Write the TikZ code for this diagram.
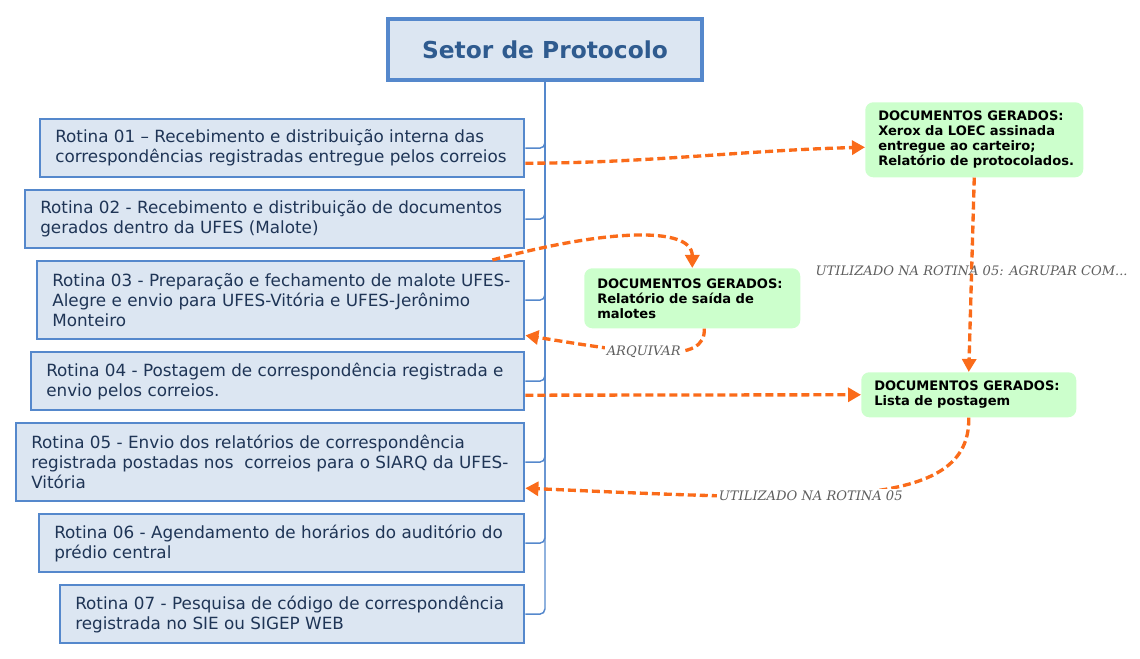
\documentclass[tikz,border=0pt]{standalone}
\usepackage{fontspec}
\setmainfont{DejaVu Sans}
\newfontfamily\lblfont{DejaVu Serif}
\usetikzlibrary{arrows.meta,calc}
\definecolor{boxfill}{HTML}{DCE6F2}
\definecolor{boxline}{HTML}{5588CC}
\definecolor{boxtext}{HTML}{1F3556}
\definecolor{titletext}{HTML}{2F5B8F}
\definecolor{docfill}{HTML}{CCFFCC}
\definecolor{flowcol}{HTML}{FA6B1A}
\definecolor{lblcol}{HTML}{5E5E5E}
\begin{document}
\begin{tikzpicture}[x=0.75pt,y=-0.75pt,
		titlebox/.style={draw=boxline, line width=3pt, fill=boxfill, text=titletext, minimum width=235.5pt, minimum height=45.75pt, font=\bfseries\fontsize{17.5}{21}\selectfont},
		rbox/.style={draw=boxline, line width=1.8pt, fill=boxfill, anchor=north west, minimum height=43.5pt},
		rtext/.style={anchor=west, align=left, inner sep=0pt, xshift=12pt, text=boxtext, font=\fontsize{12.6}{15}\selectfont},
		dbox/.style={fill=docfill, rounded corners=6pt, anchor=north west},
		dtext/.style={anchor=west, align=left, inner sep=0pt, xshift=9.75pt, font=\bfseries\fontsize{9.8}{11.25}\selectfont},
		trunk/.style={draw=boxline, line width=1.1pt, rounded corners=4pt},
		flow/.style={draw=flowcol, line width=2.5pt, dash pattern=on 6pt off 3pt, -{Triangle[length=9.75pt,width=10.5pt]}},
		lbl/.style={text=lblcol, inner sep=1.5pt, font=\lblfont\itshape\fontsize{9.8}{12}\selectfont}]
	\useasboundingbox (0,0) rectangle (1140,659);
	\node[titlebox] (title) at (545,49.5) {Setor de Protocolo};
	\node[rbox, minimum width=363pt] (r1) at (39,118) {};
	\node[rbox, minimum width=374.25pt] (r2) at (24,189) {};
	\node[rbox, minimum width=365.25pt, minimum height=58.5pt] (r3) at (36,260) {};
	\node[rbox, minimum width=369.75pt] (r4) at (30,351) {};
	\node[rbox, minimum width=381pt, minimum height=58.5pt] (r5) at (15,422) {};
	\node[rbox, minimum width=363.75pt] (r6) at (38,513) {};
	\node[rbox, minimum width=348pt] (r7) at (59,584) {};
	\draw[trunk] (title.south) |- (r7.east);
	\draw[trunk] (r1.east) -| (title.south);
	\draw[trunk] (r2.east) -| (title.south);
	\draw[trunk] (r3.east) -| (title.south);
	\draw[trunk] (r4.east) -| (title.south);
	\draw[trunk] (r5.east) -| (title.south);
	\draw[trunk] (r6.east) -| (title.south);
	\node[rtext] (t1) at (r1.west) {Rotina 01 – Recebimento e distribuição interna das\\correspondências registradas entregue pelos correios};
	\node[rtext] (t2) at (r2.west) {Rotina 02 - Recebimento e distribuição de documentos\\gerados dentro da UFES (Malote)};
	\node[rtext] (t3) at (r3.west) {Rotina 03 - Preparação e fechamento de malote UFES-\\Alegre e envio para UFES-Vitória e UFES-Jerônimo\\Monteiro};
	\node[rtext] (t4) at (r4.west) {Rotina 04 - Postagem de correspondência registrada e\\envio pelos correios.};
	\node[rtext] (t5) at (r5.west) {Rotina 05 - Envio dos relatórios de correspondência\\registrada postadas nos\ \ correios para o SIARQ da UFES-\\Vitória};
	\node[rtext] (t6) at (r6.west) {Rotina 06 - Agendamento de horários do auditório do\\prédio central};
	\node[rtext] (t7) at (r7.west) {Rotina 07 - Pesquisa de código de correspondência\\registrada no SIE ou SIGEP WEB};
	\node[dbox, minimum width=163.5pt, minimum height=56.25pt] (g1) at (865,102) {};
	\node[dbox, minimum width=162pt, minimum height=45pt] (g2) at (584,268) {};
	\node[dbox, minimum width=161.25pt, minimum height=33.75pt] (g3) at (861,372) {};
	\node[dtext] (d1) at (g1.west) {DOCUMENTOS GERADOS:\\Xerox da LOEC assinada\\entregue ao carteiro;\\Relatório de protocolados.};
	\node[dtext] (d2) at (g2.west) {DOCUMENTOS GERADOS:\\Relatório de saída de\\malotes};
	\node[dtext] (d3) at (g3.west) {DOCUMENTOS GERADOS:\\Lista de postagem};
	\draw[flow] ($(r1.east)+(0,15)$) .. controls +(120,0) and +(-120,3) .. ($(g1.west)+(0,7.5)$);
	\draw[flow] (g1.south) -- node[lbl, pos=0.48] {UTILIZADO NA ROTINA 05: AGRUPAR COM...} (g3.north);
	\draw[flow] ($(r3.north east)+(-33,0)$) .. controls +(110,-30) and +(0,-43) .. (g2.north);
	\draw[flow] ($(g2.south)+(12,0)$) .. controls +(2,36) and +(117,19) .. node[lbl, pos=0.58, fill=white] {ARQUIVAR} ($(r3.south east)+(0,-5)$);
	\draw[flow] ($(r4.east)+(0,14)$) -- (g3.west);
	\draw[flow] (g3.south) .. controls +(2,93) and +(298,13) .. node[lbl, pos=0.6, fill=white] {UTILIZADO NA ROTINA 05} ($(r5.east)+(0,26)$);
\end{tikzpicture}
\end{document}
